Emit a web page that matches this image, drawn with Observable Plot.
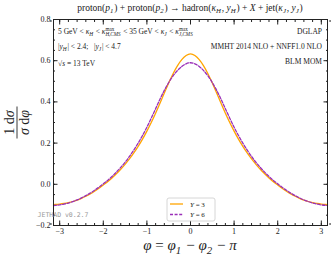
<!DOCTYPE html>
<html><head><meta charset="utf-8">
<script src="https://cdn.jsdelivr.net/npm/d3@7"></script>
<script src="https://cdn.jsdelivr.net/npm/@observablehq/plot@0.6"></script>
<style>
html,body{margin:0;padding:0;background:#fff;}
</style>
</head><body>
<div id="chart"></div>
<script>
const phi = [0, 0.1, 0.2, 0.3, 0.4, 0.5, 0.6, 0.7, 0.8, 0.9, 1.0, 1.1, 1.2, 1.3, 1.4, 1.5, 1.6, 1.7, 1.8, 1.9, 2.0, 2.1, 2.2, 2.3, 2.4, 2.5, 2.6, 2.7, 2.8, 2.9, 3.0, 3.1, Math.PI];
const valuesY3 = [0.633, 0.625, 0.605, 0.575, 0.537, 0.492, 0.443, 0.393, 0.345, 0.300, 0.258, 0.219, 0.184, 0.152, 0.123, 0.097, 0.073, 0.051, 0.031, 0.013, -0.003, -0.019, -0.0335, -0.0465, -0.058, -0.068, -0.0765, -0.0835, -0.089, -0.093, -0.096, -0.098, -0.0985];
const valuesY6 = [0.590, 0.585, 0.572, 0.552, 0.526, 0.494, 0.456, 0.413, 0.367, 0.321, 0.277, 0.237, 0.200, 0.166, 0.135, 0.107, 0.082, 0.059, 0.038, 0.019, 0.002, -0.014, -0.029, -0.043, -0.055, -0.066, -0.076, -0.084, -0.091, -0.096, -0.100, -0.102, -0.103];
const seriesNames = ["Y = 3", "Y = 6"];
const xMajor = [-3, -2, -1, 0, 1, 2, 3];
const yMajor = [-0.2, 0.0, 0.2, 0.4, 0.6, 0.8];

function mirror(vals) {
  const rows = [];
  for (let i = phi.length - 1; i > 0; i--) rows.push([-phi[i], vals[i]]);
  for (let i = 0; i < phi.length; i++) rows.push([phi[i], vals[i]]);
  return rows.map(([x, y]) => ({x, y}));
}
const dataY3 = mirror(valuesY3);
const dataY6 = mirror(valuesY6);

const xMinor = d3.range(-32, 33, 2).map(d => d / 10);
const yMinor = d3.range(-20, 81, 5).map(d => d / 100);
const fmtY = d => d3.format(".1f")(d).replace("-", "−");
const fmtX = d => String(d).replace("-", "−");

const serif = "'Liberation Serif', 'DejaVu Serif', serif";
const colors = ["#FFA500", "#9A2FB8"];
const dashes = [null, "3,1.6"];

const plot = Plot.plot({
  width: 335,
  height: 256,
  marginLeft: 53,
  marginRight: 8,
  marginTop: 19,
  marginBottom: 31,
  style: {fontFamily: serif, fontSize: "8px", background: "#fff", color: "#222"},
  x: {domain: [-Math.PI, Math.PI]},
  y: {domain: [-0.2, 0.8]},
  marks: [
    Plot.axisX({anchor: "bottom", ticks: xMinor, tickSize: -2, text: null, label: null}),
    Plot.axisX({anchor: "top", ticks: xMinor, tickSize: -2, text: null, label: null}),
    Plot.axisX({anchor: "bottom", ticks: xMajor, tickSize: -4.5, text: null, label: null}),
    Plot.axisX({anchor: "top", ticks: xMajor, tickSize: -4.5, text: null, label: null}),
    Plot.axisX({anchor: "bottom", ticks: xMajor, tickSize: 0, tickPadding: 3, tickFormat: fmtX, label: null}),
    Plot.axisY({anchor: "left", ticks: yMinor, tickSize: -2, text: null, label: null}),
    Plot.axisY({anchor: "right", ticks: yMinor, tickSize: -2, text: null, label: null}),
    Plot.axisY({anchor: "left", ticks: yMajor, tickSize: -4.5, text: null, label: null}),
    Plot.axisY({anchor: "right", ticks: yMajor, tickSize: -4.5, text: null, label: null}),
    Plot.axisY({anchor: "left", ticks: yMajor, tickSize: 0, tickPadding: 3, tickFormat: fmtY, label: null}),
    Plot.line(dataY3, {x: "x", y: "y", stroke: colors[0], strokeWidth: 1.3, curve: "natural"}),
    Plot.line(dataY6, {x: "x", y: "y", stroke: colors[1], strokeWidth: 1.3, strokeDasharray: dashes[1], curve: "natural"}),
    Plot.frame({stroke: "#222", strokeWidth: 1})
  ]
});
document.getElementById("chart").appendChild(plot);

const svg = d3.select(plot);

// rich text helper: parts = [[text, kind, extra]] kind: "n" normal, "i" italic, "sub", "subsup"
function rich(g, x, y, parts, opts = {}) {
  const size = opts.size || 8;
  const t = g.append("text").attr("x", x).attr("y", y)
    .attr("font-family", serif).attr("font-size", size)
    .attr("fill", opts.fill || "#222")
    .attr("text-anchor", opts.anchor || "start");
  const small = size * 0.72;
  const d = size * 0.25;
  for (const p of parts) {
    const [txt, kind, extra] = p;
    if (kind === "n") t.append("tspan").text(txt);
    else if (kind === "i") t.append("tspan").attr("font-style", "italic").text(txt);
    else if (kind === "sub") {
      t.append("tspan").attr("font-size", small).attr("dy", d).attr("font-style", opts.subUpright ? null : "italic").text(txt);
      t.append("tspan").attr("dy", -d).text("\u200A");
    } else if (kind === "subsup") {
      const sup = t.append("tspan").attr("font-size", small * 0.95).attr("dy", -size * 0.42).text(txt);
      const sub = t.append("tspan").attr("font-size", small * 0.95).attr("dy", size * 0.7).attr("font-style", "italic").text(extra);
      const w = sup.node().getComputedTextLength();
      sub.attr("dx", -w);
      t.append("tspan").attr("dy", -size * 0.28).text("\u200A");
    }
  }
  return t;
}

// Title
rich(svg, 190, 11, [
  ["proton(", "n"], ["p", "i"], ["1", "sub"], [") + proton(", "n"], ["p", "i"], ["2", "sub"],
  [") → hadron(", "n"], ["κ", "i"], ["H", "sub"], [", ", "n"], ["y", "i"], ["H", "sub"],
  [") + ", "n"], ["X", "i"], [" + jet(", "n"], ["κ", "i"], ["J", "sub"], [", ", "n"], ["y", "i"], ["J", "sub"], [")", "n"]
], {size: 9.5, anchor: "middle"});

// Left annotations
rich(svg, 58, 34, [
  ["5 GeV < ", "n"], ["κ", "i"], ["H", "sub"], [" < ", "n"], ["κ", "i"], ["max", "subsup", "H,CMS"],
  [" < 35 GeV < ", "n"], ["κ", "i"], ["J", "sub"], [" < ", "n"], ["κ", "i"], ["max", "subsup", "J,CMS"]
], {size: 7.5});
rich(svg, 58, 49, [
  ["|", "n"], ["y", "i"], ["H", "sub"], ["| < 2.4;   |", "n"], ["y", "i"], ["J", "sub"], ["| < 4.7", "n"]
], {size: 7.5});
rich(svg, 58, 66, [["√", "n"], ["s", "i"], [" = 13 TeV", "n"]], {size: 7.5});

// Right annotations
rich(svg, 322, 34, [["DGLAP", "n"]], {size: 7.5, anchor: "end"});
rich(svg, 322, 49, [["MMHT 2014 NLO + NNFF1.0 NLO", "n"]], {size: 7.5, anchor: "end"});
rich(svg, 322, 64, [["BLM MOM", "n"]], {size: 7.5, anchor: "end"});

// JETHAD watermark
svg.append("text").attr("x", 63).attr("y", 217)
  .attr("font-family", "'DejaVu Sans Mono', 'Liberation Mono', monospace")
  .attr("font-size", 6.5).attr("fill", "#999").text("JETHAD v0.2.7");

// Legend
const lg = svg.append("g");
lg.append("rect").attr("x", 167).attr("y", 198).attr("width", 48).attr("height", 23)
  .attr("rx", 2).attr("fill", "#fff").attr("fill-opacity", 0.85).attr("stroke", "#ccc").attr("stroke-width", 0.8);
seriesNames.forEach((name, i) => {
  const yy = 204 + i * 10.5;
  lg.append("line").attr("x1", 170).attr("x2", 183).attr("y1", yy).attr("y2", yy)
    .attr("stroke", colors[i]).attr("stroke-width", 1.3).attr("stroke-dasharray", dashes[i]);
  const [a, b] = name.split(" = ");
  rich(lg, 190, yy + 2.5, [[a, "i"], [" = " + b, "n"]], {size: 7});
});

// Y label (fraction), rotated
const yl = svg.append("g").attr("transform", "translate(17,122.5) rotate(-90)");
rich(yl, 0, -3.5, [["1 d", "n"], ["σ", "i"]], {size: 14, anchor: "middle"});
yl.append("line").attr("x1", -16).attr("x2", 16).attr("y1", 0).attr("y2", 0).attr("stroke", "#222").attr("stroke-width", 0.9);
rich(yl, 0, 11.5, [["σ", "i"], [" d", "n"], ["φ", "i"]], {size: 14, anchor: "middle"});

// X label
rich(svg, 190, 250, [["φ", "i"], [" = ", "n"], ["φ", "i"], ["1", "sub"], [" − ", "n"], ["φ", "i"], ["2", "sub"], [" − ", "n"], ["π", "i"]], {size: 15, anchor: "middle"});
</script>
</body></html>
